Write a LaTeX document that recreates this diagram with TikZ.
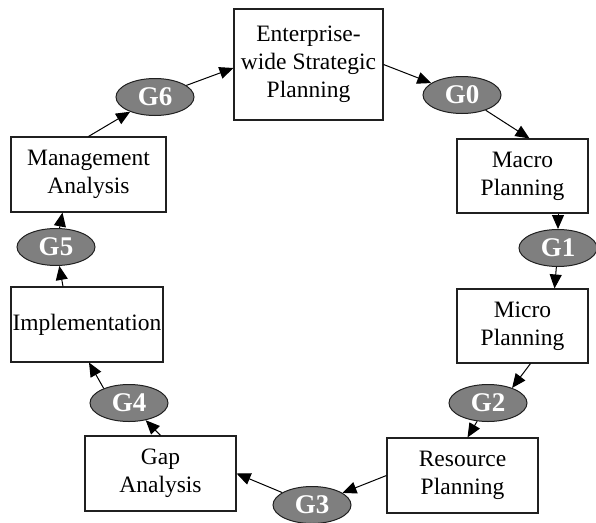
\documentclass[tikz,border=0pt]{standalone}
\usepackage{fontspec}
\setmainfont{Liberation Serif}
\usetikzlibrary{arrows.meta,shapes.geometric}
\definecolor{gfill}{HTML}{7F7F7F}
\definecolor{edgec}{HTML}{202020}
\tikzset{
  box/.style={draw=edgec, line width=1.1pt, fill=white, rectangle, align=center, inner sep=0pt,
    font=\fontsize{23.5}{28}\selectfont},
  gate/.style={draw=edgec, line width=1pt, fill=gfill, ellipse, inner sep=0pt,
    minimum width=78pt, minimum height=37pt, text=white, font=\fontsize{27}{28}\selectfont\bfseries},
  arr/.style={draw=black, line width=1pt, -{Triangle[length=14pt,width=12pt]}}
}
\begin{document}
\begin{tikzpicture}[x=1pt,y=-1pt]
\useasboundingbox (0,0) rectangle (596,522);
\node[box, minimum width=149pt, minimum height=111pt] (ent) at (308.5,64.5) {Enterprise-\\wide Strategic\\Planning};
\node[box, minimum width=131pt, minimum height=74pt] (macro) at (522.5,176) {Macro\\Planning};
\node[box, minimum width=131pt, minimum height=74pt] (micro) at (522.5,326) {Micro\\Planning};
\node[box, minimum width=151pt, minimum height=75pt] (res) at (462.5,475.5) {Resource\\Planning};
\node[box, minimum width=151pt, minimum height=75pt] (gap) at (160.5,473.5) {Gap\\Analysis};
\node[box, minimum width=152pt, minimum height=75pt] (impl) at (87,324.5) {Implementation};
\node[box, minimum width=155pt, minimum height=75pt] (mgmt) at (88.5,174.5) {Management\\Analysis};

\node[gate] (g6) at (155,97) {G6};
\node[gate] (g0) at (462,95) {G0};
\node[gate] (g1) at (558,248) {G1};
\node[gate] (g2) at (488,403) {G2};
\node[gate] (g3) at (312,505) {G3};
\node[gate] (g4) at (129,403) {G4};
\node[gate] (g5) at (56,247) {G5};

\draw[arr] (ent.east) -- (g0);
\draw[arr] (g0) -- ([xshift=7pt]macro.north);
\draw[arr] ([xshift=35.5pt]macro.south) -- (g1);
\draw[arr] (g1) -- ([xshift=32pt]micro.north);
\draw[arr] ([xshift=8pt]micro.south) -- (g2.32);
\draw[arr] (g2) -- ([xshift=5pt]res.north);
\draw[arr] (res.west) -- (g3);
\draw[arr] (g3) -- (gap.east);
\draw[arr] (gap.north) -- (g4);
\draw[arr] (g4.150) -- ([xshift=2pt]impl.south);
\draw[arr] ([xshift=-24pt]impl.north) -- (g5);
\draw[arr] (g5) -- ([xshift=-26pt]mgmt.south);
\draw[arr] (mgmt.north) -- (g6);
\draw[arr] (g6) -- ([yshift=-3.5pt]ent.west);
\end{tikzpicture}
\end{document}
